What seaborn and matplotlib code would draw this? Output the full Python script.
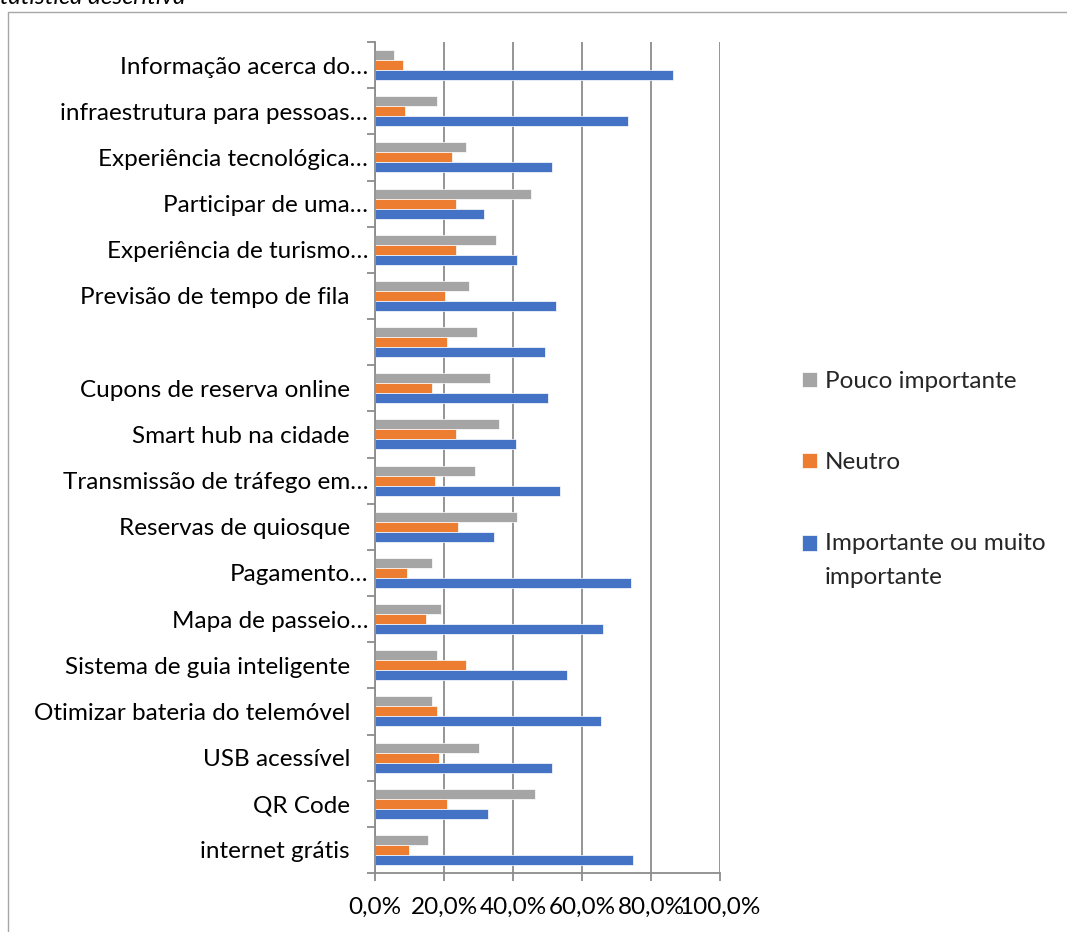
import matplotlib
matplotlib.use("Agg")
import matplotlib.pyplot as plt
import seaborn as sns
import pandas as pd
from matplotlib.patches import Rectangle
from matplotlib.legend_handler import HandlerPatch
from matplotlib.ticker import FixedLocator, FuncFormatter

# Survey items (top to bottom)
categories = [
    "Informação acerca do…",
    "infraestrutura para pessoas…",
    "Experiência tecnológica…",
    "Participar de uma…",
    "Experiência de turismo…",
    "Previsão de tempo de fila",
    "",
    "Cupons de reserva online",
    "Smart hub na cidade",
    "Transmissão de tráfego em…",
    "Reservas de quiosque",
    "Pagamento…",
    "Mapa de passeio…",
    "Sistema de guia inteligente",
    "Otimizar bateria do telemóvel",
    "USB acessível",
    "QR Code",
    "internet grátis",
]

# Share of answers per item (%)
pouco = [5.5, 17.9, 26.5, 45.1, 35.2, 27.2, 29.7, 33.3, 35.8, 29.0, 41.3, 16.6,
         19.1, 17.9, 16.6, 30.2, 46.3, 15.5]
neutro = [8.0, 8.7, 22.2, 23.5, 23.5, 20.4, 21.0, 16.6, 23.5, 17.3, 24.1, 9.2,
          14.8, 26.5, 17.9, 18.5, 21.0, 9.9]
importante = [86.5, 73.4, 51.3, 31.5, 41.3, 52.6, 49.4, 50.0, 40.8, 53.6, 34.5, 74.1,
              66.0, 55.6, 65.4, 51.3, 32.7, 74.7]

series_names = ["Pouco importante", "Neutro", "Importante ou muito importante"]
legend_labels = ["Pouco importante", "Neutro", "Importante ou muito\nimportante"]
colors = ["#A5A5A5", "#ED7D31", "#4472C4"]
xticks = [0, 20, 40, 60, 80, 100]

df = pd.DataFrame({
    "Item": categories * 3,
    "Série": [s for s in series_names for _ in categories],
    "Valor": pouco + neutro + importante,
})

sns.set_theme(style="white")
plt.rcParams["font.family"] = ["Lato", "DejaVu Sans"]

FS = 17.5
W, H = 1067, 932
fig = plt.figure(figsize=(W / 100, H / 100), dpi=100)
fig.patch.set_facecolor("white")

# chart frame
fig.add_artist(Rectangle((8 / W, -0.05), 1.2, (H - 12) / H + 0.05,
                         transform=fig.transFigure, fill=False,
                         edgecolor="#A6A6A6", linewidth=1.0))
fig.text(185 / W, 1 - 4 / H, "Estatística descritiva", ha="right", va="baseline",
         fontsize=FS, style="italic", color="black")

ax = fig.add_axes([375 / W, 1 - 873 / H, 345 / W, 831 / H])
sns.barplot(data=df, y="Item", x="Valor", hue="Série", hue_order=series_names,
            order=categories, palette=colors, saturation=1, orient="h",
            width=0.65, errorbar=None, edgecolor="#FFFFFF", linewidth=0.5, ax=ax)

gray = "#8C8C8C"
ax.set_xlim(0, 100)
ax.set_ylim(len(categories) - 0.5, -0.5)
ax.set_xlabel("")
ax.set_ylabel("")
ax.xaxis.set_major_locator(FixedLocator(xticks))
ax.xaxis.set_major_formatter(FuncFormatter(lambda v, p: f"{v:.1f}%".replace(".", ",")))
ax.grid(axis="x", color=gray, linewidth=1.3)
ax.set_axisbelow(True)
for side in ["top", "right"]:
    ax.spines[side].set_visible(False)
for side in ["left", "bottom"]:
    ax.spines[side].set_visible(True)
    ax.spines[side].set_color(gray)
    ax.spines[side].set_linewidth(1.3)

ax.yaxis.set_minor_locator(FixedLocator([i - 0.5 for i in range(len(categories) + 1)]))
ax.tick_params(axis="x", which="major", direction="out", length=5.5, width=1.3,
               color=gray, labelsize=FS, pad=12, labelcolor="black", bottom=True)
ax.tick_params(axis="y", which="major", length=0, labelsize=FS, labelcolor="black")
ax.tick_params(axis="y", which="minor", direction="out", length=5.5, width=1.3,
               color=gray, left=True)
for tick, name in zip(ax.yaxis.get_major_ticks(), categories):
    tick.set_pad(5 if name.endswith("…") else 18)

LINESP = 1.75
SWATCH_LIFT = 12.6  # points, half the line pitch of a two-line label


def first_line_patch(legend, orig_handle, xdescent, ydescent, width, height, fontsize):
    # lift the swatch so it sits beside the first line of a two-line label
    return Rectangle((-xdescent, -ydescent + SWATCH_LIFT), width, height)


handles, _ = ax.get_legend_handles_labels()
leg = ax.legend(handles, legend_labels, loc="upper left",
                bbox_to_anchor=(802 / W, 1 - 371 / H), bbox_transform=fig.transFigure,
                frameon=False, fontsize=FS, handlelength=0.6, handleheight=0.6,
                handletextpad=0.35, labelspacing=2.47, borderpad=0, borderaxespad=0,
                handler_map={handles[2]: HandlerPatch(patch_func=first_line_patch)})
for t in leg.get_texts():
    t.set_linespacing(LINESP)

fig.savefig("out.png", dpi=100, facecolor="white")
